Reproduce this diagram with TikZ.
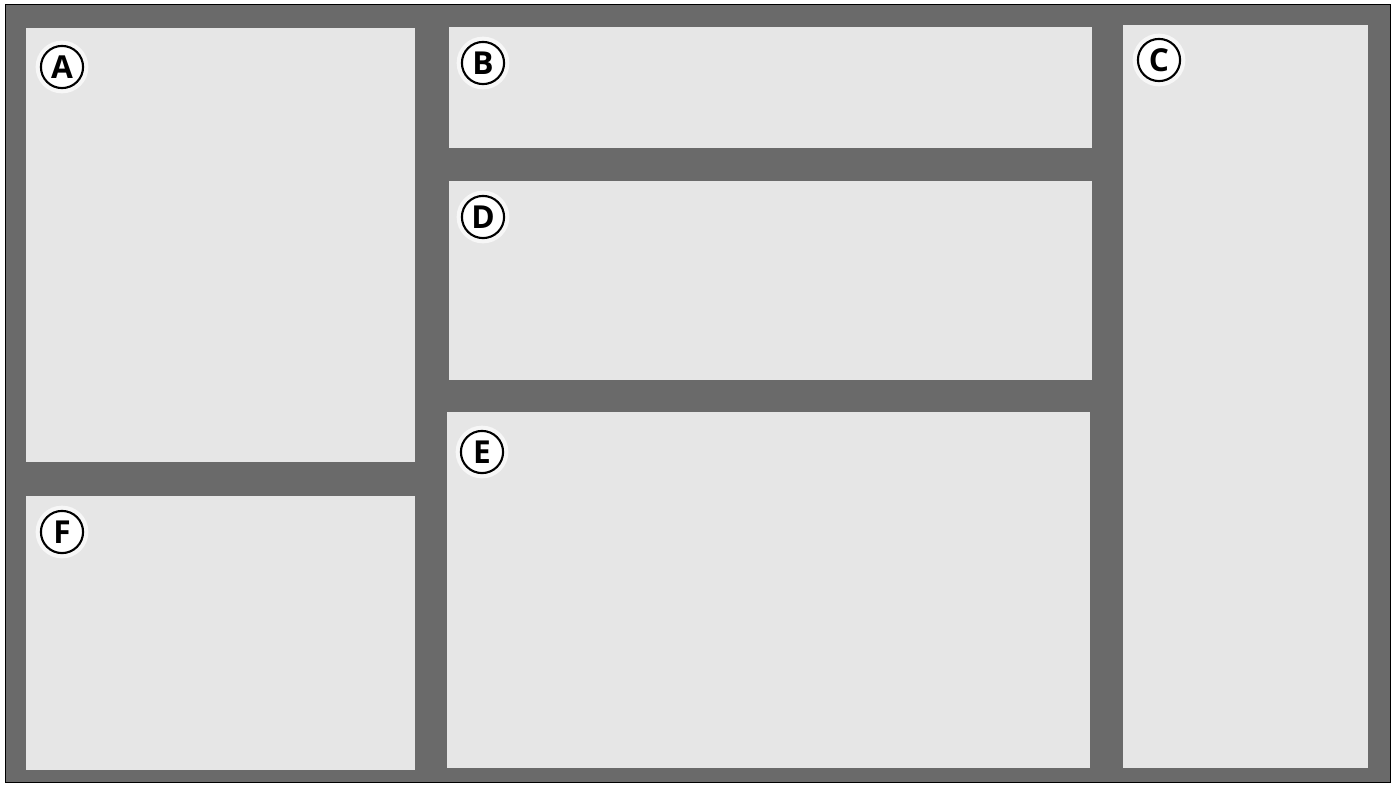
\documentclass[tikz,border=0pt]{standalone}
\usepackage{fontspec}
\setsansfont{Open Sans}
\usepackage{tikz}
\usetikzlibrary{calc}
\usepackage{xcolor}

\definecolor{framegray}{HTML}{6A6A6A}
\definecolor{panelgray}{HTML}{E6E6E6}

\tikzset{
    panel/.style={fill=panelgray},
    badge/.style={circle, draw=black, line width=1.2pt, fill=white, inner sep=0pt,
        minimum size=24pt, font=\sffamily\bfseries\fontsize{18}{18}\selectfont},
    halo/.style={circle, fill=white, opacity=0.7, inner sep=0pt, minimum size=30pt}
}

\begin{document}
\begin{tikzpicture}[x=0.02cm, y=-0.02cm]

    % Page size (in pixels of the layout)
    \useasboundingbox (0,0) rectangle (1395,785);

    % Outer dark frame
    \fill[white] (0,0) rectangle (1395,785);
    \draw[fill=framegray, line width=0.4pt] (5,4) rectangle (1390,782);

    % Panels
    \fill[panel] (26,28) rectangle (415,462);   % A
    \fill[panel] (449,27) rectangle (1092,148); % B
    \fill[panel] (1123,25) rectangle (1368,768); % C
    \fill[panel] (449,181) rectangle (1092,380); % D
    \fill[panel] (447,412) rectangle (1090,768); % E
    \fill[panel] (26,496) rectangle (415,770);  % F

    % Circled letters
    \foreach \name/\x/\y in {A/62/67, B/483/63, C/1159/60, D/483/217, E/482/452, F/62/532} {
        \node[halo] at (\x,\y) {};
        \node[badge] (lab\name) at (\x,\y) {\name};
    }
\end{tikzpicture}
\end{document}
